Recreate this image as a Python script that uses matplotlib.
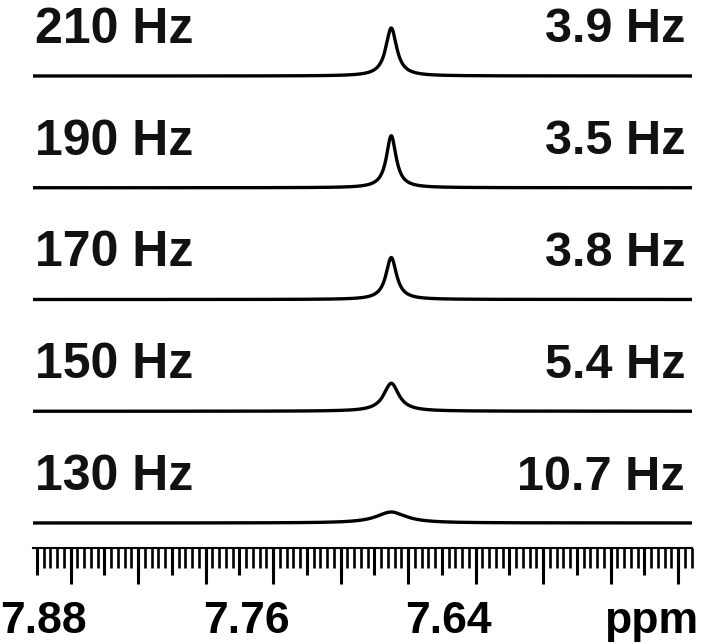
import numpy as np
import matplotlib
matplotlib.use("Agg")
import matplotlib.pyplot as plt
from matplotlib.ticker import MultipleLocator, FuncFormatter, NullFormatter
from matplotlib.transforms import ScaledTranslation, blended_transform_factory

# Spin-lock / decoupling field strengths and the resulting line widths
field_hz = [210, 190, 170, 150, 130]
linewidth_hz = [3.9, 3.5, 3.8, 5.4, 10.7]
peak_height = [48, 52, 42, 28, 11]          # relative intensity
peak_ppm = 7.690
spectrometer_mhz = 500.0

axis_labels = {7.88: "7.88", 7.76: "7.76", 7.64: "7.64", 7.52: "ppm"}

plt.rcParams["font.family"] = ["Liberation Sans", "DejaVu Sans"]
plt.rcParams["font.weight"] = "bold"

fig = plt.figure(figsize=(7.12, 6.44), dpi=100)
ax = fig.add_axes([33 / 712, 96 / 644, 659 / 712, 548 / 644])
mixed = blended_transform_factory(ax.transAxes, ax.transData)

x = np.linspace(7.50, 7.91, 4000)
spacing = 111.75
n = len(field_hz)
for i, (f, lw_hz, h) in enumerate(zip(field_hz, linewidth_hz, peak_height)):
    offset = 25 + (n - 1 - i) * spacing
    hw = lw_hz / spectrometer_mhz / 2.0
    y = h * hw**2 / ((x - peak_ppm) ** 2 + hw**2)
    ax.plot(x, y + offset, color="black", lw=2.4, solid_capstyle="round")
    ax.text(0.003, offset + 46, f"{f} Hz", transform=mixed,
            ha="left", va="center", fontsize=36, fontweight="bold", color="#111111")
    ax.text(0.9894, offset + 46, f"{lw_hz} Hz", transform=mixed,
            ha="right", va="center", fontsize=35, fontweight="bold", color="#111111")

ax.set_xlim(7.9023, 7.5118)
ax.set_ylim(0, 548)

for s in ("top", "left", "right"):
    ax.spines[s].set_visible(False)
ax.spines["bottom"].set_linewidth(1.5)
ax.set_yticks([])

# medium (0.02 ppm) and short (0.004 ppm) ticks
ax.xaxis.set_major_locator(MultipleLocator(0.02))
ax.xaxis.set_minor_locator(MultipleLocator(0.004))
ax.xaxis.set_major_formatter(NullFormatter())
ax.tick_params(axis="x", which="major", direction="out", length=19.4, width=2.2, color="black")
ax.tick_params(axis="x", which="minor", direction="out", length=14.4, width=1.9, color="black")

# long (0.04 ppm) ticks with labels
sec = ax.secondary_xaxis("bottom")
sec.spines["bottom"].set_visible(False)
sec.xaxis.set_major_locator(MultipleLocator(0.04))
sec.xaxis.set_minor_locator(MultipleLocator(1.0))


def fmt(v, pos):
    for k, lab in axis_labels.items():
        if abs(v - k) < 1e-6:
            return lab
    return ""


sec.xaxis.set_major_formatter(FuncFormatter(fmt))
sec.tick_params(axis="x", which="major", direction="out", length=26, width=2.2,
                color="black", pad=12, labelsize=32)
for lab in sec.get_xticklabels():
    lab.set_fontweight("bold")
shift = ScaledTranslation(-27 / 100, 0, fig.dpi_scale_trans)
for lab in sec.xaxis.get_majorticklabels():
    lab.set_transform(lab.get_transform() + shift)

fig.savefig("out.png", dpi=100)
